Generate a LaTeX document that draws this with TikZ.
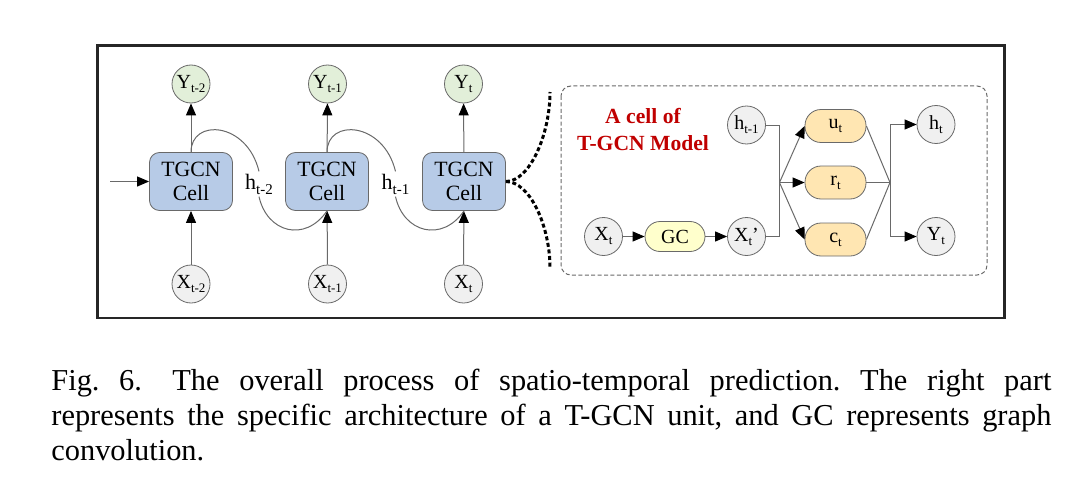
\documentclass[tikz,border=0pt]{standalone}
\usepackage{fontspec}
\setmainfont{Liberation Serif}
\usetikzlibrary{arrows.meta,positioning}
\definecolor{cellblue}{RGB}{183,203,231}
\definecolor{ygreen}{RGB}{226,239,217}
\definecolor{xgray}{RGB}{240,240,240}
\definecolor{gatefill}{RGB}{255,230,178}
\definecolor{gcfill}{RGB}{255,255,204}
\definecolor{linegray}{RGB}{105,105,105}
\definecolor{titlered}{RGB}{192,0,0}
\newcommand{\lowidx}[1]{\raisebox{-2pt}{\fontsize{6.5}{7}\selectfont #1}}
\newcommand{\hidx}[1]{\raisebox{-2.5pt}{\fontsize{7.5}{8}\selectfont #1}}
\frenchspacing

\begin{document}
\begin{tikzpicture}[x=0.5pt,y=-0.5pt,
		cell/.style={draw=linegray,fill=cellblue,rounded corners=5pt,minimum width=41.5pt,minimum height=29pt,inner sep=0pt,align=center,font=\fontsize{10.9}{12}\selectfont},
		xnode/.style={circle,draw=linegray,fill=xgray,minimum size=19pt,inner sep=0pt,font=\fontsize{10}{12}\selectfont},
		ynode/.style={xnode,fill=ygreen},
		gate/.style={draw=linegray,fill=gatefill,rounded corners=8pt,minimum width=30.5pt,minimum height=16.5pt,inner sep=0pt,font=\fontsize{10}{12}\selectfont},
		gcbox/.style={gate,fill=gcfill,minimum width=30pt,minimum height=15pt,rounded corners=7.5pt},
		link/.style={draw=linegray,line width=0.5pt},
		arr/.style={link,-{Triangle[length=6pt,width=5pt,color=black]}},
		brace/.style={draw=black,line width=1.5pt,dash pattern=on 2pt off 1.3pt},
		hlabel/.style={inner sep=1pt,font=\fontsize{11}{12}\selectfont}]
	\useasboundingbox (0,0) rectangle (1075,492);
	
	% outer frame
	\draw[line width=1.1pt,draw=black!85] (97.5,45.5) rectangle (1004.5,318);
	
	% unrolled chain
	\node[cell] (c1) at (191,181.5) {TGCN\\Cell};
	\node[cell] (c2) at (327,181.5) {TGCN\\Cell};
	\node[cell] (c3) at (464,181.5) {TGCN\\Cell};
	
	\node[ynode] (y1) at (191,84) {Y\lowidx{t-2}};
	\node[ynode] (y2) at (327.5,84) {Y\lowidx{t-1}};
	\node[ynode] (y3) at (463.5,84) {Y\lowidx{t}};
	
	\node[xnode] (x1) at (191,284) {X\lowidx{t-2}};
	\node[xnode] (x2) at (327.5,284) {X\lowidx{t-1}};
	\node[xnode] (x3) at (463.5,284) {X\lowidx{t}};
	
	\node[hlabel] (h1) at (259,184) {h\hidx{t-2}};
	\node[hlabel] (h2) at (395.5,184) {h\hidx{t-1}};
	
	\coordinate (in) at (110,181.5);
	\draw[arr] (in) -- (c1);
	
	\draw[arr] (x1) -- (c1);
	\draw[arr] (x2) -- (c2);
	\draw[arr] (x3) -- (c3);
	\draw[arr] (c1) -- (y1);
	\draw[arr] (c2) -- (y2);
	\draw[arr] (c3) -- (y3);
	
	% hidden state passing
	\draw[link] (c1.north) .. controls +(0,-34) and +(-12,-50) .. (h1.north);
	\draw[link] (h1.south) .. controls +(8,36) and +(-22,32) .. (c2.south);
	\draw[link] (c2.north) .. controls +(0,-34) and +(-12,-50) .. (h2.north);
	\draw[link] (h2.south) .. controls +(8,36) and +(-22,32) .. (c3.south);
	
	% zoom in on the last cell
	\coordinate (bt) at (550,92);
	\coordinate (bb) at (550,268);
	\draw[brace] (c3.east) .. controls +(24,0) and +(0,42) .. (bt);
	\draw[brace] (c3.east) .. controls +(24,0) and +(0,-42) .. (bb);
	
	\draw[draw=linegray,line width=0.5pt,dash pattern=on 2pt off 1.2pt,rounded corners=5pt] (561,86) rectangle (987,275);
	
	\node[text=titlered,align=center,font=\bfseries\fontsize{10.8}{13.5}\selectfont] (title) at (643,130) {A cell of\\T-GCN Model};
	
	% inside one cell
	\node[xnode] (hp) at (746.5,125) {h\lowidx{t-1}};
	\node[xnode] (xr) at (603.5,236.5) {X\lowidx{t}};
	\node[gcbox] (gc) at (675,236.5) {GC};
	\node[xnode] (xp) at (746.5,236.5) {X\lowidx{t}'};
	
	\node[gate] (u) at (835.5,126) {u\lowidx{t}};
	\node[gate] (r) at (835.5,182.5) {r\lowidx{t}};
	\node[gate] (c) at (835.5,239.5) {c\lowidx{t}};
	
	\node[xnode] (ht) at (936,124.5) {h\lowidx{t}};
	\node[xnode] (yt) at (936,236.5) {Y\lowidx{t}};
	
	\coordinate (jl) at (779.5,182.5);
	\coordinate (jr) at (890,182.5);
	
	\draw[arr] (xr) -- (gc);
	\draw[arr] (gc) -- (xp);
	\draw[link] (hp.east) -| (jl) |- (xp.east);
	\draw[arr] (jl) -- (u.west);
	\draw[arr] (jl) -- (r);
	\draw[arr] (jl) -- (c.west);
	\draw[link] (u.east) -- (jr);
	\draw[link] (r.east) -- (jr);
	\draw[link] (c.east) -- (jr);
	\draw[link] (jr |- ht) -- (jr |- yt);
	\draw[arr] (jr |- ht) -- (ht);
	\draw[arr] (jr |- yt) -- (yt);
	
	% caption
	\node[anchor=north west,inner sep=0pt,align=left,font=\fontsize{15.2}{17.5}\selectfont] (cap) at (51,369) {%
		\makebox[500pt][s]{Fig.~6.\hspace{1em}The overall process of spatio-temporal prediction. The right part}\\
		\makebox[500pt][s]{represents the specific architecture of a T-GCN unit, and GC represents graph}\\
		convolution.};
\end{tikzpicture}
\end{document}
